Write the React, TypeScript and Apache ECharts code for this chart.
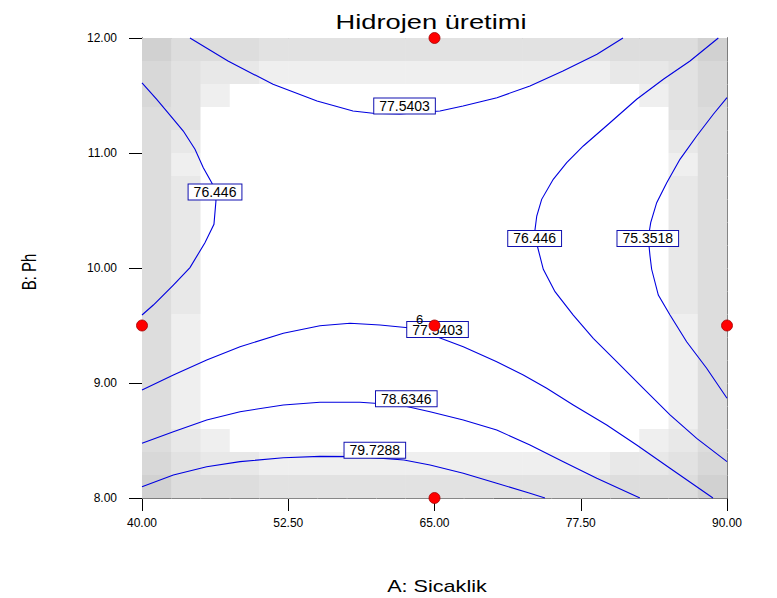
import React, { useEffect, useRef } from "react";
import * as echarts from "echarts";

const FONT = "'Liberation Sans', Arial, sans-serif";

const xTicks = [40, 52.5, 65, 77.5, 90];
const yTicks = [8, 9, 10, 11, 12];

// Shading grid (rows top -> bottom, columns left -> right), level 0 = white
const shadeRows = [
  "64443333333333334446",
  "53221111111111112235",
  "53100000000000000135",
  "43000000000000000034",
  "42000000000000000024",
  "41000000000000000014",
  "42000000000000000024",
  "42000000000000000024",
  "42000000000000000024",
  "42000000000000000024",
  "42000000000000000024",
  "42000000000000000024",
  "41000000000000000014",
  "41000000000000000014",
  "41000000000000000014",
  "41000000000000000014",
  "41000000000000000014",
  "42100000000000000124",
  "53221111111111112235",
  "64443333333333334446",
];
const shadePalette = ["#ffffff", "#efefef", "#e8e8e8", "#e2e2e2", "#dddddd", "#d8d8d8", "#d1d1d1"];

// Contour lines [A: Sicaklik, B: Ph]
const contour77_5403Top = [
  [44.1, 12], [47.35, 11.8], [51.2, 11.597], [54.96, 11.452], [58.03, 11.365], [59.74, 11.345],
  [62.05, 11.339], [65.47, 11.365], [67.44, 11.409], [70.34, 11.481], [73.16, 11.583],
  [75.98, 11.713], [78.89, 11.858], [81.11, 12],
];
const contour76_446Left = [
  [40, 11.61], [41.26, 11.467], [42.39, 11.33], [43.53, 11.191], [44.53, 11.032], [45.24, 10.872],
  [45.96, 10.742], [46.3, 10.66], [46.32, 10.583], [46.15, 10.38], [45.38, 10.22], [44.1, 10.003],
  [42.68, 9.852], [40.97, 9.678], [40, 9.591],
];
const contour76_446Right = [
  [89.26, 12], [86.84, 11.8], [84.56, 11.641], [82.28, 11.467], [80.0, 11.263], [77.72, 11.061],
  [76.3, 10.916], [75.15, 10.771], [74.16, 10.597], [73.74, 10.452], [73.5, 10.261], [73.79, 10.191],
  [74.3, 9.989], [75.3, 9.794], [76.86, 9.591], [78.57, 9.389], [80.57, 9.185], [82.85, 8.954],
  [85.13, 8.722], [87.41, 8.519], [90, 8.316],
];
const contour75_3518 = [
  [90, 11.481], [88.83, 11.337], [87.41, 11.148], [85.98, 10.945], [84.85, 10.742], [83.99, 10.568],
  [83.48, 10.394], [83.27, 10.261], [83.42, 10.104], [83.56, 9.989], [84.13, 9.765], [85.13, 9.591],
  [86.55, 9.359], [88.26, 9.128], [90, 8.867],
];
const contour77_5403Bottom = [
  [40, 8.939], [42.68, 9.07], [45.53, 9.2], [48.38, 9.316], [52.08, 9.432], [55.21, 9.498],
  [57.78, 9.519], [60.34, 9.504], [62.74, 9.481], [65.19, 9.403], [67.46, 9.316], [70.32, 9.185],
  [72.59, 9.07], [74.59, 8.954], [76.86, 8.809], [79.72, 8.635], [82.28, 8.461], [85.13, 8.259],
  [88.8, 8],
];
const contour78_6346 = [
  [40, 8.476], [42.68, 8.577], [45.53, 8.678], [48.38, 8.75], [52.08, 8.809], [55.21, 8.832],
  [58.63, 8.832], [62.05, 8.809], [64.62, 8.75], [67.46, 8.678], [70.32, 8.591], [73.16, 8.461],
  [76.01, 8.316], [78.87, 8.171], [82.56, 8],
];
const contour79_7288 = [
  [40, 8.098], [42.68, 8.2], [45.53, 8.272], [48.38, 8.316], [52.08, 8.35], [55.21, 8.362],
  [58.63, 8.36], [62.39, 8.33], [64.62, 8.287], [67.46, 8.215], [70.32, 8.128], [73.16, 8.041],
  [74.44, 8],
];

const contourLabels = ["77.5403", "76.446", "76.446", "75.3518", "77.5403", "78.6346", "79.7288"];
const contourLabelX = [62.44, 46.24, 73.56, 83.23, 65.26, 62.59, 59.9];
const contourLabelY = [11.409, 10.661, 10.257, 10.257, 9.465, 8.863, 8.415];

// Design points
const designX = [65, 40, 65, 90, 65];
const designY = [12, 9.5, 9.5, 9.5, 8];
const designReps = [1, 1, 6, 1, 1];

const LINE_COLOR = "#0000e0";

export default function App() {
  const ref = useRef<HTMLDivElement>(null);

  useEffect(() => {
    document.body.style.margin = "0";
    if (!ref.current) return;
    const chart = echarts.init(ref.current, null, { renderer: "svg" });

    const xMin = xTicks[0], xMax = xTicks[xTicks.length - 1];
    const yMin = yTicks[0], yMax = yTicks[yTicks.length - 1];
    const nCols = shadeRows[0].length, nRows = shadeRows.length;
    const cw = (xMax - xMin) / nCols, ch = (yMax - yMin) / nRows;
    const cells: number[][] = [];
    shadeRows.forEach((row, r) => {
      row.split("").forEach((c, k) => {
        cells.push([xMin + k * cw, yMax - r * ch, xMin + (k + 1) * cw, yMax - (r + 1) * ch, Number(c)]);
      });
    });

    const contours = [
      contour77_5403Top, contour76_446Left, contour76_446Right, contour75_3518,
      contour77_5403Bottom, contour78_6346, contour79_7288,
    ];

    const option: any = {
      animation: false,
      grid: { left: 142, top: 38, width: 585, height: 460, show: false },
      xAxis: [
        {
          type: "value", min: xMin, max: xMax,
          axisLine: { show: true, onZero: false, lineStyle: { color: "#000", width: 1 } },
          axisTick: { show: true, length: 13, customValues: xTicks, lineStyle: { color: "#000" } },
          axisLabel: {
            customValues: xTicks, margin: 19, color: "#000", fontSize: 12, fontFamily: FONT,
            formatter: (v: number) => v.toFixed(2),
          },
          splitLine: { show: false },
        },
        {
          type: "value", min: xMin, max: xMax, position: "top",
          axisLine: { show: true, onZero: false, lineStyle: { color: "#000", width: 1 } },
          axisTick: { show: false }, axisLabel: { show: false }, splitLine: { show: false },
        },
      ],
      yAxis: [
        {
          type: "value", min: yMin, max: yMax, interval: 1,
          axisLine: { show: true, onZero: false, lineStyle: { color: "#000", width: 1 } },
          axisTick: { show: true, length: 13, lineStyle: { color: "#000" } },
          axisLabel: {
            margin: 25, color: "#000", fontSize: 12, fontFamily: FONT,
            formatter: (v: number) => v.toFixed(2),
          },
          splitLine: { show: false },
        },
        {
          type: "value", min: yMin, max: yMax, position: "right",
          axisLine: { show: true, onZero: false, lineStyle: { color: "#000", width: 1 } },
          axisTick: { show: false }, axisLabel: { show: false }, splitLine: { show: false },
        },
      ],
      series: [
        {
          type: "custom",
          silent: true,
          z: 1,
          data: cells,
          renderItem: (params: any, api: any) => {
            const p0 = api.coord([api.value(0), api.value(1)]);
            const p1 = api.coord([api.value(2), api.value(3)]);
            return {
              type: "rect",
              shape: { x: p0[0], y: p0[1], width: p1[0] - p0[0] + 0.6, height: p1[1] - p0[1] + 0.6 },
              style: { fill: shadePalette[api.value(4)], lineWidth: 0 },
            };
          },
        },
        {
          type: "custom",
          silent: true,
          z: 3,
          data: contours.map((c, i) => [c[0][0], c[0][1], i]),
          renderItem: (params: any, api: any) => {
            const pts = contours[params.dataIndex].map((p) => api.coord(p));
            return {
              type: "polyline",
              shape: { points: pts },
              style: { stroke: LINE_COLOR, lineWidth: 1.1, fill: "none" },
            };
          },
        },
        {
          type: "scatter",
          z: 4,
          silent: true,
          symbolSize: 2,
          itemStyle: { color: "rgba(0,0,0,0)" },
          data: contourLabels.map((t, i) => ({ name: t, value: [contourLabelX[i], contourLabelY[i]] })),
          label: {
            show: true,
            position: "inside",
            formatter: "{b}",
            color: "#000",
            opacity: 1,
            fontSize: 14,
            fontFamily: FONT,
            lineHeight: 13,
            backgroundColor: "#ffffff",
            borderColor: "#1010b0",
            borderWidth: 1,
            padding: [1, 5, 1, 5],
          },
        },
        {
          type: "scatter",
          z: 5,
          silent: true,
          clip: false,
          symbol: "circle",
          symbolSize: 11,
          itemStyle: { color: "#ff0000", borderColor: "#a00000", borderWidth: 0.8, opacity: 1 },
          data: designX.map((x, i) => [x, designY[i]]),
          label: {
            show: true,
            position: [-9, 0],
            align: "center",
            verticalAlign: "middle",
            color: "#000",
            fontSize: 13,
            fontFamily: FONT,
            formatter: (p: any) => (designReps[p.dataIndex] > 1 ? String(designReps[p.dataIndex]) : ""),
          },
        },
      ],
      graphic: [
        {
          type: "text",
          x: 431,
          y: 22,
          scaleX: 1.3,
          style: {
            text: "Hidrojen üretimi",
            fontSize: 21,
            fontFamily: FONT,
            fill: "#000",
            align: "center",
            verticalAlign: "middle",
          },
        },
        {
          type: "text",
          x: 437,
          y: 587,
          scaleX: 1.35,
          style: {
            text: "A: Sicaklik",
            fontSize: 16,
            fontFamily: FONT,
            fill: "#000",
            align: "center",
            verticalAlign: "middle",
          },
        },
        {
          type: "text",
          x: 29,
          y: 272,
          rotation: Math.PI / 2,
          scaleY: 1.3,
          style: {
            text: "B: Ph",
            fontSize: 15,
            fontFamily: FONT,
            fill: "#000",
            align: "center",
            verticalAlign: "middle",
          },
        },
      ],
    };

    chart.setOption(option);
    return () => chart.dispose();
  }, []);

  return <div ref={ref} style={{ width: 777, height: 598, background: "#fff" }} />;
}
